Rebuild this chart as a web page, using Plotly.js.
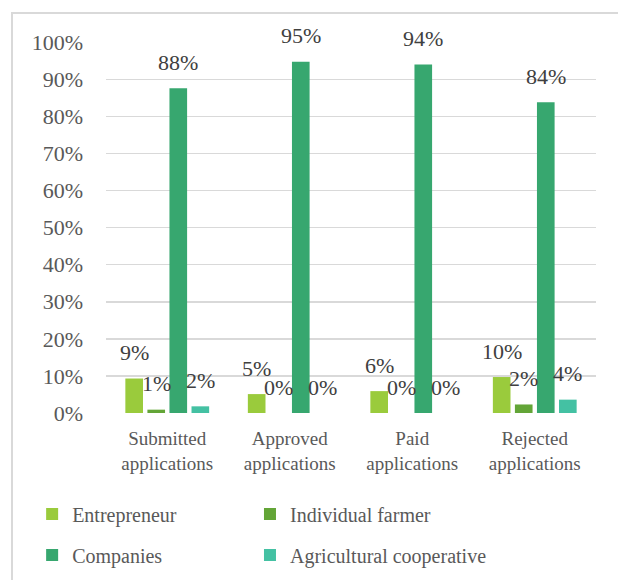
<!DOCTYPE html>
<html>
<head>
<meta charset="utf-8">
<script src="https://cdn.plot.ly/plotly-3.0.1.min.js"></script>
<style>
  html, body { margin: 0; padding: 0; background: #ffffff; overflow: hidden; }
  #chart { position: absolute; left: 0; top: 0; width: 618px; height: 580px; }
  #frame { position: absolute; left: 11px; top: 12px; width: 700px; height: 700px;
           border: 2px solid #d9d9d9; pointer-events: none; }
</style>
</head>
<body>
<div id="chart"></div>
<div id="frame"></div>
<script>
// ---- data ----
const categories = ['Submitted<br>applications', 'Approved<br>applications', 'Paid<br>applications', 'Rejected<br>applications'];
const seriesNames = ['Entrepreneur', 'Individual farmer', 'Companies', 'Agricultural cooperative'];
const entrepreneur = [0.093, 0.051, 0.059, 0.097];
const individualFarmer = [0.009, 0.0, 0.0, 0.023];
const companies = [0.876, 0.947, 0.940, 0.838];
const agriCoop = [0.018, 0.0, 0.0, 0.036];
const yTickVals = [0, 0.1, 0.2, 0.3, 0.4, 0.5, 0.6, 0.7, 0.8, 0.9, 1.0];
const yTickText = ['0%', '10%', '20%', '30%', '40%', '50%', '60%', '70%', '80%', '90%', '100%'];

// ---- style ----
const colors = ['#9ACB3C', '#63A537', '#37A76F', '#44C1A3'];
const serif = '"Times New Roman", "Liberation Serif", serif';
const margin = { l: 106, r: 22, t: 42, b: 167 };
const W = 618, H = 580;
const bargap = 0.28, bargroupgap = 0.2;

const allSeries = [entrepreneur, individualFarmer, companies, agriCoop];
const legendIds = ['legend', 'legend2', 'legend3', 'legend4'];
// legend slots: 2 columns x 2 rows (container fractions)
const legendCols = [0.052, 0.4045];
const legendRows = [0.114, 0.043];

const traces = allSeries.map((vals, i) => ({
  type: 'bar',
  name: seriesNames[i],
  x: categories,
  y: vals,
  marker: { color: colors[i] },
  legend: legendIds[i],
  hoverinfo: 'skip'
}));

// label offsets derived from bar geometry
const plotW = W - margin.l - margin.r;
const catW = plotW / categories.length;
const slot = catW * (1 - bargap) / allSeries.length;
const annotations = [];
allSeries.forEach((vals, i) => {
  const xs = (i - (allSeries.length - 1) / 2) * slot;
  vals.forEach((v, j) => {
    annotations.push({
      x: categories[j], y: v, xref: 'x', yref: 'y',
      text: Math.round(v * 100) + '%',
      showarrow: false, xshift: xs, yshift: 26,
      xanchor: 'center', yanchor: 'middle',
      font: { family: serif, size: 22, color: '#404040' }
    });
  });
});

const layout = {
  width: W, height: H,
  margin: margin,
  paper_bgcolor: 'rgba(0,0,0,0)',
  plot_bgcolor: 'rgba(0,0,0,0)',
  barmode: 'group',
  bargap: bargap,
  bargroupgap: bargroupgap,
  font: { family: serif, color: '#595959' },
  xaxis: {
    type: 'category',
    showgrid: false, zeroline: false, showline: false,
    ticks: '',
    tickfont: { family: serif, size: 19, color: '#595959' },
    ticklabelstandoff: 12,
    fixedrange: true
  },
  yaxis: {
    range: [0, 1.0005],
    tickvals: yTickVals, ticktext: yTickText,
    showgrid: true, gridcolor: '#d9d9d9', gridwidth: 1.5,
    zeroline: false, showline: false, ticks: '',
    tickfont: { family: serif, size: 22, color: '#595959' },
    ticklabelstandoff: 22,
    fixedrange: true
  },
  showlegend: true,
  annotations: annotations
};

legendIds.forEach((id, i) => {
  layout[id] = {
    orientation: 'h', xref: 'container', yref: 'container',
    x: legendCols[i % 2], y: legendRows[Math.floor(i / 2)],
    xanchor: 'left', yanchor: 'middle', itemwidth: 30,
    font: { family: serif, size: 20, color: '#595959' },
    bgcolor: 'rgba(0,0,0,0)', itemclick: false, itemdoubleclick: false
  };
});

Plotly.newPlot('chart', traces, layout, { displayModeBar: false, staticPlot: true });
</script>
</body>
</html>
